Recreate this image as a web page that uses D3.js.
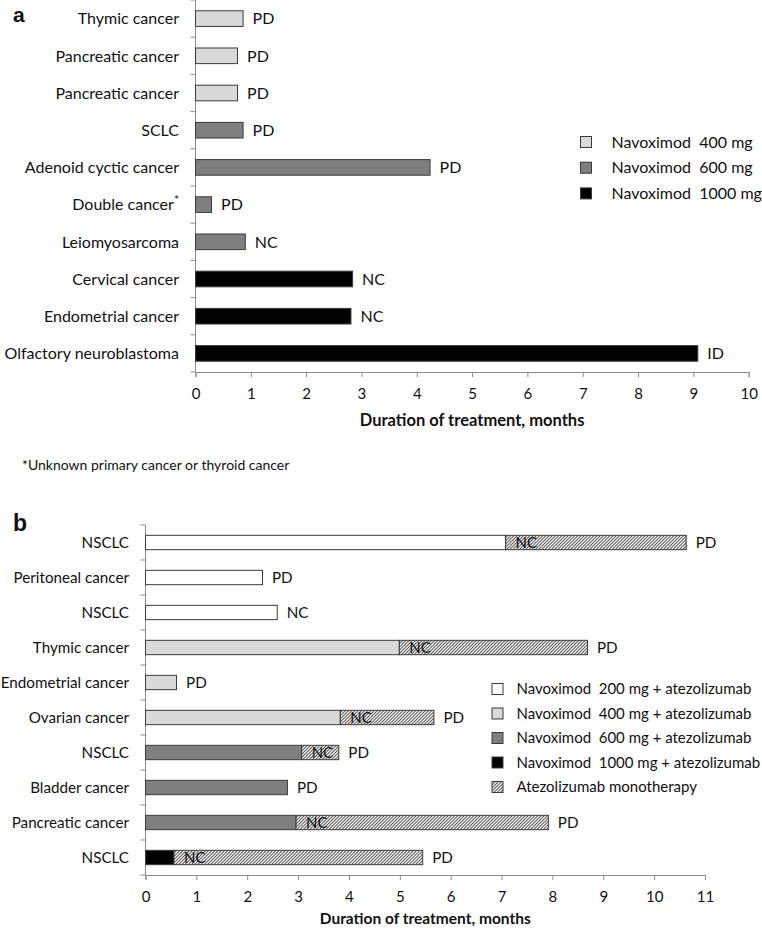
<!DOCTYPE html>
<html><head><meta charset="utf-8">
<script src="https://cdn.jsdelivr.net/npm/d3@7"></script>
<style>
body{margin:0;background:#fff;}
svg text{font-family:Lato,"Open Sans",sans-serif;fill:#111;white-space:pre;}
</style></head>
<body><svg id="c" width="762" height="929"></svg>
<script>
// ---------- Panel a data ----------
const catsA = ["Thymic cancer","Pancreatic cancer","Pancreatic cancer ","SCLC","Adenoid cyctic cancer","Double cancer","Leiomyosarcoma","Cervical cancer","Endometrial cancer","Olfactory neuroblastoma"];
const valsA = [0.86,0.76,0.76,0.86,4.24,0.29,0.90,2.84,2.81,9.08];
const doseA = ["400","400","400","600","600","600","600","1000","1000","1000"];
const respA = ["PD","PD","PD","PD","PD","PD","NC","NC","NC","ID"];
const ticksA = [0,1,2,3,4,5,6,7,8,9,10];
const legendA = ["400","600","1000"];
const legendLabelsA = ["Navoximod  400 mg","Navoximod  600 mg","Navoximod  1000 mg"];

// ---------- Panel b data ----------
const catsB = ["NSCLC","Peritoneal cancer","NSCLC ","Thymic cancer","Endometrial cancer","Ovarian cancer","NSCLC  ","Bladder cancer","Pancreatic cancer","NSCLC   "];
const comboB = [7.08,2.30,2.59,4.99,0.61,3.83,3.07,2.79,2.96,0.56];
const monoB  = [3.55,0,0,3.70,0,1.84,0.73,0,4.96,4.89];
const doseB  = ["200","200","200","400","400","400","600","600","600","1000"];
const respB  = ["PD","PD","NC","PD","PD","PD","PD","PD","PD","PD"];
const monoRespB = ["NC","","","NC","","NC","NC","","NC","NC"];
const ticksB = [0,1,2,3,4,5,6,7,8,9,10,11];
const legendB = ["200","400","600","1000","mono"];
const legendLabelsB = ["Navoximod  200 mg + atezolizumab","Navoximod  400 mg + atezolizumab","Navoximod  600 mg + atezolizumab","Navoximod  1000 mg + atezolizumab","Atezolizumab monotherapy"];

const fillOf = {"200":"#ffffff","400":"#d9d9d9","600":"#7f7f7f","1000":"#000000","mono":"url(#hatch)"};
const STROKE = "#3a3a3a", AXIS = "#8c8c8c";

const svg = d3.select("#c");
const defs = svg.append("defs");
const pat = defs.append("pattern").attr("id","hatch").attr("patternUnits","userSpaceOnUse")
  .attr("width",3.2).attr("height",3.2);
pat.append("rect").attr("width",3.2).attr("height",3.2).attr("fill","#fff");
pat.append("path").attr("d","M-0.8,0.8 L0.8,-0.8 M0,3.2 L3.2,0 M2.4,4 L4,2.4")
  .attr("stroke","#333").attr("stroke-width",0.9);

function panel(cfg){
  const g = svg.append("g");
  const x = d3.scaleLinear().domain([0, cfg.ticks[cfg.ticks.length-1]]).range([cfg.x0, cfg.x1]);
  const y = d3.scaleBand().domain(cfg.cats).range([cfg.y0, cfg.y1]);
  const bw = y.bandwidth(), bh = bw*cfg.barFrac, off = (bw-bh)/2;

  g.append("line").attr("x1",cfg.x0).attr("x2",cfg.x0).attr("y1",cfg.y0).attr("y2",cfg.y1)
    .attr("stroke",AXIS).attr("stroke-width",1);
  const bounds = cfg.cats.map(c=>y(c)).concat([cfg.y1]);
  g.selectAll(".yt").data(bounds).join("line")
    .attr("x1",cfg.x0-5).attr("x2",cfg.x0).attr("y1",d=>d).attr("y2",d=>d)
    .attr("stroke",AXIS);

  const xa = g.append("g").attr("transform",`translate(0,${cfg.y1})`)
    .call(d3.axisBottom(x).tickValues(cfg.ticks).tickFormat(d3.format("d")).tickSize(5).tickPadding(11));
  xa.select(".domain").attr("stroke",AXIS);
  xa.selectAll(".tick line").attr("stroke",AXIS);
  xa.selectAll(".tick text").attr("font-family","Lato").attr("font-size",cfg.tickFs).attr("fill","#111");

  g.selectAll(".cl").data(cfg.cats).join("text")
    .attr("x",cfg.x0-16.5).attr("y",d=>y(d)+bw/2).attr("dy","0.36em")
    .attr("text-anchor","end").attr("font-size",cfg.catFs)
    .each(function(d){
      const t=d3.select(this); t.text(d.trim());
      if(cfg.star && d.trim()===cfg.star){
        t.append("tspan").attr("dy","-0.55em").attr("font-size",cfg.catFs*0.75).text("*");
      }
    });

  cfg.draw(g,x,y,bw,bh,off);

  g.append("text").attr("x",(cfg.x0+cfg.x1)/2).attr("y",cfg.titleY).attr("text-anchor","middle")
    .attr("font-weight","bold").attr("font-size",cfg.titleFs).text("Duration of treatment, months");
  return {x,y};
}

// ---------- Panel a ----------
panel({cats:catsA, ticks:ticksA, x0:195.5, x1:748.7, y0:0, y1:372, barFrac:0.42,
  tickFs:15, catFs:16, titleFs:16.5, titleY:426, star:"Double cancer",
  draw:(g,x,y,bw,bh,off)=>{
    g.selectAll(".ba").data(catsA).join("rect")
      .attr("x",x(0)).attr("y",d=>y(d)+off).attr("width",(d,i)=>x(valsA[i])-x(0)).attr("height",bh)
      .attr("fill",(d,i)=>fillOf[doseA[i]]).attr("stroke",STROKE).attr("stroke-width",1);
    g.selectAll(".ra").data(catsA).join("text")
      .attr("x",(d,i)=>x(valsA[i])+9.5).attr("y",d=>y(d)+bw/2).attr("dy","0.36em")
      .attr("font-size",16).text((d,i)=>respA[i]);
  }});

const la = svg.append("g");
legendA.forEach((k,i)=>{
  const cy = 142 + i*25.7;
  la.append("rect").attr("x",580.5).attr("y",cy-5.5).attr("width",11).attr("height",11)
    .attr("fill",fillOf[k]).attr("stroke",STROKE);
  la.append("text").attr("x",611.5).attr("y",cy).attr("dy","0.36em").attr("font-size",16).text(legendLabelsA[i]);
});

svg.append("text").attr("x",13).attr("y",22).style("font-family","Liberation Sans, Arial, sans-serif")
  .attr("font-weight","bold").attr("font-size",21).text("a");
svg.append("text").attr("x",22).attr("y",465).attr("dy","0.36em").attr("font-size",14)
  .text("*Unknown primary cancer or thyroid cancer");

// ---------- Panel b ----------
panel({cats:catsB, ticks:ticksB, x0:145.5, x1:705, y0:525, y1:875, barFrac:0.41,
  tickFs:15, catFs:15.2, titleFs:15.5, titleY:924, star:null,
  draw:(g,x,y,bw,bh,off)=>{
    g.selectAll(".bc").data(catsB).join("rect")
      .attr("x",x(0)).attr("y",d=>y(d)+off).attr("width",(d,i)=>x(comboB[i])-x(0)).attr("height",bh)
      .attr("fill",(d,i)=>fillOf[doseB[i]]).attr("stroke",STROKE).attr("stroke-width",1);
    const withMono = catsB.map((c,i)=>({c,i})).filter(o=>monoB[o.i]>0);
    g.selectAll(".bm").data(withMono).join("rect")
      .attr("x",o=>x(comboB[o.i])).attr("y",o=>y(o.c)+off)
      .attr("width",o=>x(comboB[o.i]+monoB[o.i])-x(comboB[o.i])).attr("height",bh)
      .attr("fill",fillOf.mono).attr("stroke",STROKE).attr("stroke-width",1);
    g.selectAll(".nm").data(withMono).join("text")
      .attr("x",o=>x(comboB[o.i])+10).attr("y",o=>y(o.c)+bw/2).attr("dy","0.36em")
      .attr("font-size",15).text(o=>monoRespB[o.i]);
    g.selectAll(".rb").data(catsB).join("text")
      .attr("x",(d,i)=>x(comboB[i]+monoB[i])+9.5).attr("y",d=>y(d)+bw/2).attr("dy","0.36em")
      .attr("font-size",15.2).text((d,i)=>respB[i]);
  }});

const lb = svg.append("g");
legendB.forEach((k,i)=>{
  const cy = 689 + i*24.5;
  lb.append("rect").attr("x",492).attr("y",cy-5.5).attr("width",11).attr("height",11)
    .attr("fill",fillOf[k]).attr("stroke",STROKE);
  lb.append("text").attr("x",516.5).attr("y",cy).attr("dy","0.36em").attr("font-size",15).text(legendLabelsB[i]);
});

svg.append("text").attr("x",13).attr("y",531).style("font-family","Liberation Sans, Arial, sans-serif")
  .attr("font-weight","bold").attr("font-size",23).text("b");
</script></body></html>
